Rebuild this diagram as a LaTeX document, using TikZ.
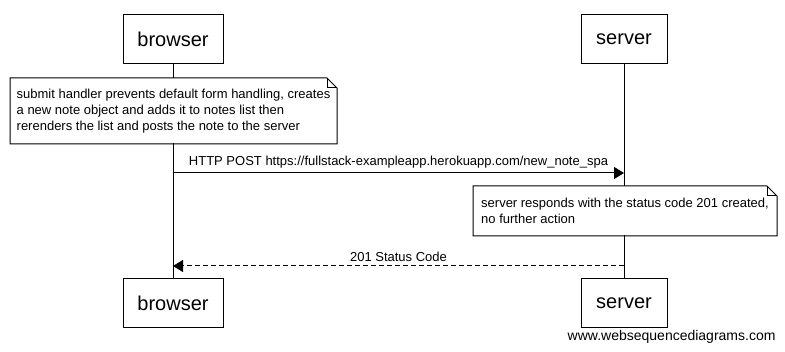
\documentclass[tikz,border=0pt]{standalone}
\usepackage{fontspec}
\setmainfont{Liberation Sans}
\usetikzlibrary{arrows.meta}

\begin{document}
\begin{tikzpicture}[x=0.75pt, y=-0.75pt, line width=0.75pt,
    actor/.style={draw, fill=white, inner sep=0pt, minimum height=36.75pt, font=\fontsize{15}{18}\selectfont},
    note/.style={anchor=north west, fill=white, align=left, inner xsep=4.5pt, inner ysep=0pt, font=\fontsize{9.75}{12}\selectfont},
    msg/.style={-{Triangle[length=7.5pt, width=9pt]}},
    lbl/.style={above, inner sep=3pt, font=\fontsize{9.75}{12}\selectfont}]
    \useasboundingbox (0,0) rectangle (785,352);

    % Participants, top and bottom
    \node[actor, minimum width=75pt] (browsertop) at (173,39.5) {browser};
    \node[actor, minimum width=64.5pt] (servertop) at (624,39.5) {server};
    \node[actor, minimum width=75pt] (browserbot) at (173,303.5) {browser};
    \node[actor, minimum width=64.5pt] (serverbot) at (624,303.5) {server};

    % Lifelines
    \draw (browsertop) -- (browserbot);
    \draw (servertop) -- (serverbot);

    % Note on the browser
    \node[note, minimum width=244.5pt, minimum height=48.75pt] (clientnote) at (10,78)
        {submit handler prevents default form handling, creates\\
         a new note object and adds it to notes list then\\
         rerenders the list and posts the note to the server};
    \draw (clientnote.north west) -- ([xshift=-7.5pt]clientnote.north east)
        -- ([yshift=-7.5pt]clientnote.north east) -- (clientnote.south east)
        -- (clientnote.south west) -- cycle;
    \draw ([xshift=-7.5pt]clientnote.north east) |- ([yshift=-7.5pt]clientnote.north east);

    % Request
    \coordinate (postfrom) at (173,173);
    \coordinate (postto) at (624,173);
    \draw[msg] (postfrom) -- node[lbl] {HTTP POST https://fullstack-exampleapp.herokuapp.com/new\_note\_spa} (postto);

    % Note on the server
    \node[note, minimum width=227.25pt, minimum height=36.75pt] (servernote) at (473,186)
        {server responds with the status code 201 created,\\
         no further action};
    \draw (servernote.north west) -- ([xshift=-7.5pt]servernote.north east)
        -- ([yshift=-7.5pt]servernote.north east) -- (servernote.south east)
        -- (servernote.south west) -- cycle;
    \draw ([xshift=-7.5pt]servernote.north east) |- ([yshift=-7.5pt]servernote.north east);

    % Response
    \coordinate (respfrom) at (624,266);
    \coordinate (respto) at (173,266);
    \draw[msg, dash pattern=on 3.75pt off 2.25pt] (respfrom) -- node[lbl] {201 Status Code} (respto);

    \node[anchor=east, inner sep=0pt, font=\fontsize{10.5}{12}\selectfont] (credit) at (776,337) {www.websequencediagrams.com};
\end{tikzpicture}
\end{document}
